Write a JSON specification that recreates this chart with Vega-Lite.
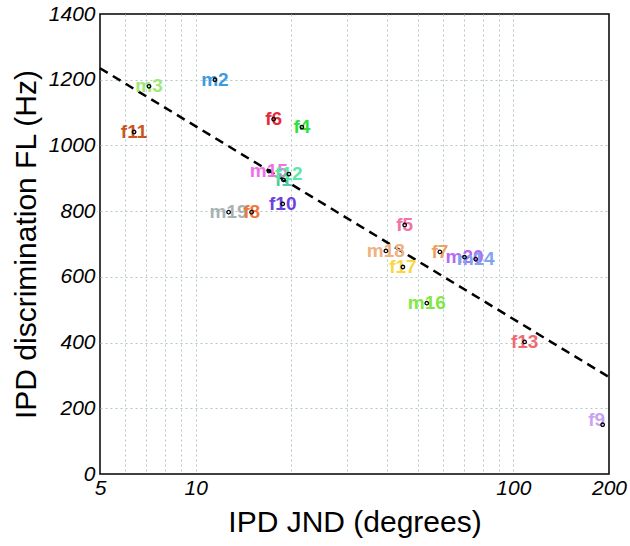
{
  "$schema": "https://vega.github.io/schema/vega-lite/v6.json",
  "width": 509,
  "height": 460,
  "autosize": {"type": "none"},
  "padding": {"left": 100, "top": 14, "right": 21, "bottom": 72},
  "background": "white",
  "config": {
    "view": {"stroke": "black", "strokeWidth": 1.5},
    "font": "Liberation Sans"
  },
  "datasets": {
    "subjects": [
      {"id": "m3", "jnd": 7.13, "fl": 1180},
      {"id": "m2", "jnd": 11.5, "fl": 1200},
      {"id": "f11", "jnd": 6.4, "fl": 1041},
      {"id": "f6", "jnd": 17.6, "fl": 1080},
      {"id": "f4", "jnd": 21.6, "fl": 1056},
      {"id": "m15", "jnd": 17.0, "fl": 922},
      {"id": "f1", "jnd": 18.9, "fl": 895},
      {"id": "f12", "jnd": 19.65, "fl": 913},
      {"id": "f10", "jnd": 18.8, "fl": 822},
      {"id": "m19", "jnd": 12.7, "fl": 797},
      {"id": "f8", "jnd": 15.0, "fl": 797},
      {"id": "f5", "jnd": 45.5, "fl": 758},
      {"id": "m18", "jnd": 39.7, "fl": 679},
      {"id": "f17", "jnd": 44.9, "fl": 630},
      {"id": "f7", "jnd": 58.7, "fl": 676},
      {"id": "m20", "jnd": 70.2, "fl": 660},
      {"id": "m14", "jnd": 76.1, "fl": 654},
      {"id": "m16", "jnd": 53.4, "fl": 520},
      {"id": "f13", "jnd": 108.5, "fl": 402},
      {"id": "f9", "jnd": 191, "fl": 150}
    ],
    "fit": [
      {"jnd": 5, "fl": 1235},
      {"jnd": 200, "fl": 295}
    ]
  },
  "layer": [
    {
      "data": {"name": "fit"},
      "mark": {"type": "line", "color": "black", "strokeWidth": 2.5, "strokeDash": [9, 6]},
      "encoding": {
        "x": {
          "field": "jnd", "type": "quantitative",
          "scale": {"type": "log", "domain": [5, 200], "nice": false},
          "axis": {
            "values": [5, 6, 7, 8, 9, 10, 20, 30, 40, 50, 60, 70, 80, 90, 100, 200],
            "labelExpr": "indexof([5, 10, 100, 200], datum.value) >= 0 ? datum.label : ''",
            "labelOverlap": false, "labelBound": false, "labelFlush": false,
            "ticks": false, "domain": false,
            "grid": true, "gridColor": "#b4c6c8", "gridDash": [2, 3], "gridWidth": 1,
            "gridOpacity": {"expr": "datum.value == 5 || datum.value == 200 ? 0 : 1"},
            "labelFontStyle": "italic", "labelFontSize": 21, "labelColor": "black", "labelPadding": 3,
            "labelFont": "Liberation Sans",
            "title": "IPD JND (degrees)", "titleFontSize": 30, "titleFontWeight": "normal",
            "titleFont": "Liberation Sans", "titleColor": "black", "titlePadding": 9
          }
        },
        "y": {
          "field": "fl", "type": "quantitative",
          "scale": {"domain": [0, 1400], "nice": false},
          "axis": {
            "values": [0, 100, 200, 300, 400, 500, 600, 700, 800, 900, 1000, 1100, 1200, 1300, 1400],
            "labelExpr": "datum.value % 200 == 0 ? datum.label : ''",
            "format": "d",
            "labelOverlap": false, "labelBound": false, "labelFlush": false,
            "ticks": false, "domain": false,
            "grid": true, "gridColor": "#b4c6c8", "gridDash": [2, 3], "gridWidth": 1,
            "gridOpacity": {"expr": "datum.value == 0 || datum.value == 1400 ? 0 : 1"},
            "labelFontStyle": "italic", "labelFontSize": 21, "labelColor": "black", "labelPadding": 5,
            "labelFont": "Liberation Sans",
            "title": "IPD discrimination FL (Hz)", "titleFontSize": 30, "titleFontWeight": "normal",
            "titleFont": "Liberation Sans", "titleColor": "black", "titlePadding": 7
          }
        }
      }
    },
    {
      "data": {"name": "subjects"},
      "mark": {"type": "text", "fontWeight": "bold", "fontSize": 19, "align": "center", "baseline": "middle", "font": "Liberation Sans"},
      "transform": [{"filter": "datum.id != 'f9'"}],
      "encoding": {
        "x": {"field": "jnd", "type": "quantitative"},
        "y": {"field": "fl", "type": "quantitative"},
        "text": {"field": "id"},
        "color": {
          "field": "id", "type": "nominal", "legend": null,
          "scale": {
            "domain": ["m3","m2","f11","f6","f4","m15","f1","f12","f10","m19","f8","f5","m18","f17","f7","m20","m14","m16","f13","f9"],
            "range": ["#9ee878","#3e9be0","#c8561e","#e8283c","#2ee038","#f070e8","#50c8a0","#5ee8a8","#6a42e0","#a8b2b2","#f07840","#f072a8","#f0b080","#f8d840","#f0a060","#b868f0","#80a4f0","#80e840","#f06872","#c8a4f0"]
          }
        }
      }
    },
    {
      "data": {"name": "subjects"},
      "mark": {"type": "text", "fontWeight": "bold", "fontSize": 19, "align": "center", "baseline": "middle", "font": "Liberation Sans", "dx": -6, "dy": -5},
      "transform": [{"filter": "datum.id == 'f9'"}],
      "encoding": {
        "x": {"field": "jnd", "type": "quantitative"},
        "y": {"field": "fl", "type": "quantitative"},
        "text": {"field": "id"},
        "color": {"field": "id", "type": "nominal", "legend": null}
      }
    },
    {
      "data": {"name": "subjects"},
      "mark": {"type": "point", "shape": "circle", "size": 12, "filled": false, "stroke": "black", "strokeWidth": 1.3, "opacity": 1},
      "encoding": {
        "x": {"field": "jnd", "type": "quantitative"},
        "y": {"field": "fl", "type": "quantitative"}
      }
    }
  ]
}
